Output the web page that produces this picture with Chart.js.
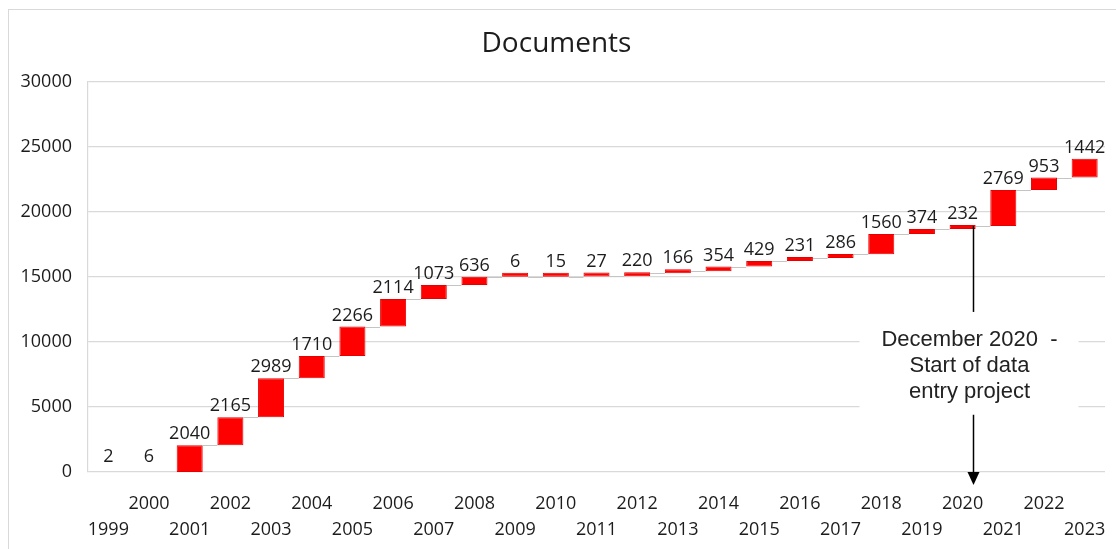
<!DOCTYPE html>
<html lang="en">
  <head>
    <meta charset="UTF-8" />
    <title>Documents</title>
    <script src="https://cdn.jsdelivr.net/npm/chart.js"></script>
    <style>
      html, body { margin: 0; padding: 0; background: #fff; }
      #wrap { position: relative; width: 1116px; height: 549px; overflow: hidden; }
      #frame { position: absolute; left: 8px; top: 9px; width: 1120px; height: 560px; border: 1px solid #d9d9d9; }
      #docs-chart { position: absolute; left: 0; top: 0; }
    </style>
  </head>
  <body>
    <div id="wrap">
      <div id="frame"></div>
      <canvas id="docs-chart" width="1116" height="549"></canvas>
    </div>

    <script>
      // documents added per year (waterfall)
      const years = [1999, 2000, 2001, 2002, 2003, 2004, 2005, 2006, 2007, 2008, 2009, 2010,
        2011, 2012, 2013, 2014, 2015, 2016, 2017, 2018, 2019, 2020, 2021, 2022, 2023];
      const added = [2, 6, 2040, 2165, 2989, 1710, 2266, 2114, 1073, 636, 6, 15,
        27, 220, 166, 354, 429, 231, 286, 1560, 374, 232, 2769, 953, 1442];
      const yMin = 0;
      const yMax = 30000;
      const yStep = 5000;

      // note pointing at the start of the data entry project
      const noteYear = 2020;
      const noteLines = ["December 2020  -", "Start of data", "entry project"];

      // floating bars [start, end]
      let running = 0;
      const ranges = added.map((v) => {
        const r = [running, running + v];
        running += v;
        return r;
      });

      // even years on the top row, odd years on the bottom row
      const xLabels = years.map((y) => (y % 2 === 0 ? [String(y), ""] : ["", String(y)]));

      const textColor = "#1c1c1c";

      const connectors = {
        id: "connectors",
        beforeDatasetsDraw(chart) {
          const meta = chart.getDatasetMeta(0);
          const ys = chart.scales.y;
          const ctx = chart.ctx;
          ctx.save();
          ctx.strokeStyle = "#c4c4c4";
          ctx.lineWidth = 1;
          // skip the first two (hidden) steps
          for (let i = 2; i < meta.data.length - 1; i++) {
            const a = meta.data[i];
            const b = meta.data[i + 1];
            const y = Math.round(ys.getPixelForValue(ranges[i][1])) + 0.5;
            ctx.beginPath();
            ctx.moveTo(a.x + a.width / 2, y);
            ctx.lineTo(b.x - b.width / 2, y);
            ctx.stroke();
          }
          ctx.restore();
        },
      };

      const valueLabels = {
        id: "valueLabels",
        afterDatasetsDraw(chart) {
          const meta = chart.getDatasetMeta(0);
          const ctx = chart.ctx;
          ctx.save();
          ctx.font = "18px 'Open Sans'";
          ctx.fillStyle = textColor;
          ctx.textAlign = "center";
          ctx.textBaseline = "bottom";
          meta.data.forEach((bar, i) => {
            ctx.fillText(String(added[i]), bar.x, Math.min(bar.y, bar.base) - 2);
          });
          ctx.restore();
        },
      };

      const note = {
        id: "note",
        afterDraw(chart) {
          const ys = chart.scales.y;
          const idx = years.indexOf(noteYear);
          const bar = chart.getDatasetMeta(0).data[idx];
          const x = Math.round(bar.x + bar.width / 2 - 3) + 0.5;
          const ctx = chart.ctx;
          const topY = ys.getPixelForValue(ranges[idx][1]);
          const baseY = ys.getPixelForValue(0);
          ctx.save();
          // white box under the text
          const boxTop = ys.getPixelForValue(12000);
          const boxBottom = ys.getPixelForValue(4800);
          ctx.fillStyle = "#fff";
          ctx.fillRect(x - 114, boxTop, 219, boxBottom - boxTop);
          // upper line
          ctx.strokeStyle = "#000";
          ctx.lineWidth = 1.5;
          ctx.beginPath();
          ctx.moveTo(x, topY);
          ctx.lineTo(x, ys.getPixelForValue(12300));
          ctx.stroke();
          // lower arrow
          ctx.beginPath();
          ctx.moveTo(x, ys.getPixelForValue(4400));
          ctx.lineTo(x, baseY);
          ctx.stroke();
          ctx.fillStyle = "#000";
          ctx.beginPath();
          ctx.moveTo(x - 6, baseY);
          ctx.lineTo(x + 6, baseY);
          ctx.lineTo(x, baseY + 13);
          ctx.closePath();
          ctx.fill();
          // text
          ctx.font = "22px 'Liberation Sans'";
          ctx.fillStyle = "#222";
          ctx.textAlign = "center";
          ctx.textBaseline = "middle";
          const first = ys.getPixelForValue(10150);
          noteLines.forEach((line, i) => {
            ctx.fillText(line, x - 4, first + i * 26);
          });
          ctx.restore();
        },
      };

      const chart = new Chart(document.getElementById("docs-chart"), {
        type: "bar",
        data: {
          labels: xLabels,
          datasets: [
            {
              label: "Documents",
              data: ranges,
              backgroundColor: (c) => (c.dataIndex < 2 ? "rgba(0,0,0,0)" : "#ff0000"),
              borderColor: (c) => (c.dataIndex < 2 ? "rgba(0,0,0,0)" : "#e80000"),
              borderWidth: 1,
              borderSkipped: false,
              minBarLength: 4,
              barPercentage: 0.64,
              categoryPercentage: 1,
            },
          ],
        },
        options: {
          responsive: false,
          animation: false,
          layout: { padding: { left: 8, right: 11, top: 0, bottom: 0 } },
          plugins: {
            legend: { display: false },
            tooltip: { enabled: false },
            title: {
              display: true,
              text: "Documents",
              color: textColor,
              font: { family: "'Open Sans'", size: 28, weight: "normal", lineHeight: 1.2 },
              padding: { top: 27, bottom: 21 },
            },
          },
          scales: {
            x: {
              grid: { display: false, drawTicks: false },
              border: { display: false },
              ticks: {
                autoSkip: false,
                maxRotation: 0,
                minRotation: 0,
                padding: 19,
                color: textColor,
                font: { family: "'Open Sans'", size: 18, lineHeight: 1.45 },
              },
              afterFit: (s) => {
                s.height = 77;
                s.paddingLeft = 0;
                s.paddingRight = 0;
              },
            },
            y: {
              min: yMin,
              max: yMax,
              grid: { color: "#d9d9d9", lineWidth: 1.2, drawTicks: false },
              border: { display: true, color: "#d9d9d9", width: 1.2 },
              ticks: {
                stepSize: yStep,
                padding: 16,
                color: textColor,
                font: { family: "'Open Sans'", size: 18 },
                callback: (v) => String(v),
              },
              afterFit: (s) => { s.width = 80; },
            },
          },
        },
        plugins: [connectors, valueLabels, note],
      });
    </script>
  </body>
</html>
